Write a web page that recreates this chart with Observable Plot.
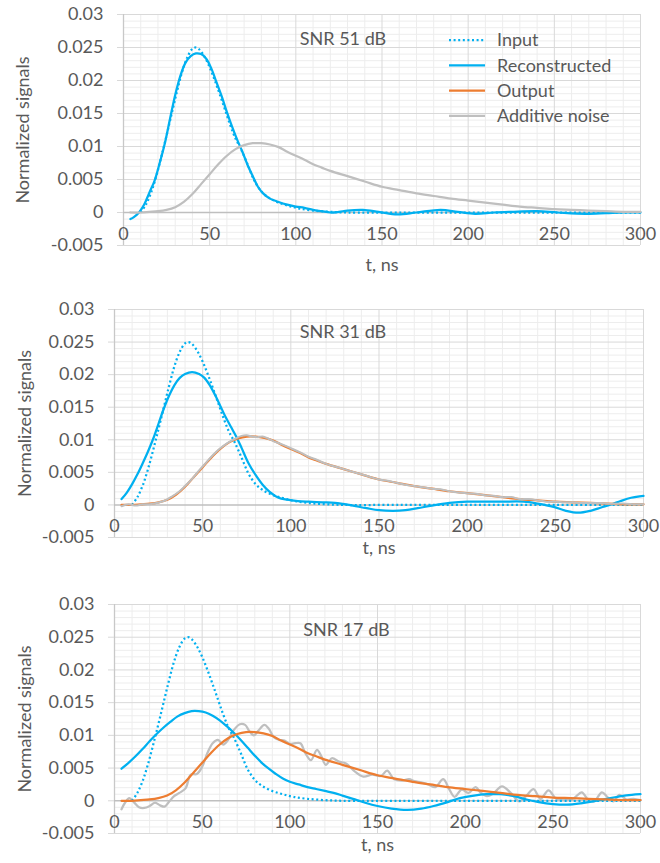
<!DOCTYPE html>
<html><head><meta charset="utf-8">
<script src="https://cdn.jsdelivr.net/npm/d3@7"></script>
<script src="https://cdn.jsdelivr.net/npm/@observablehq/plot@0.6"></script>
<style>
body{margin:0;background:#fff;font-family:Lato,sans-serif;}
#wrap{position:relative;width:660px;height:863px;overflow:hidden;}
#wrap svg{display:block;}
#legend{position:absolute;left:440px;top:25px;}
</style></head><body><div id="wrap"></div>
<script>
// ---- data (t in ns, normalized signal) ----
const xTicks = [0, 50, 100, 150, 200, 250, 300];
const yTicks = [-0.005, 0, 0.005, 0.01, 0.015, 0.02, 0.025, 0.03];
const titles = ["SNR 51 dB", "SNR 31 dB", "SNR 17 dB"];
const seriesNames = ["Input", "Reconstructed", "Output", "Additive noise"];

const input = [[10,0],[13,0.0012],[16,0.0030],[19,0.0055],[22,0.0085],[25,0.0117],[28,0.0150],[31,0.0183],[34,0.0213],[37,0.0235],[40,0.0248],[42,0.0250],[44,0.0247],[47,0.0236],[50,0.0220],[53,0.0200],[56,0.0178],[59,0.0155],[62,0.0132],[65,0.0112],[68,0.0097],[72,0.0073],[76,0.0048],[80,0.0032],[84,0.0023],[90,0.0015],[96,0.0010],[102,0.0006],[110,0.0003],[120,0.0001],[130,0],[160,0],[200,0],[250,0],[300,0]];

const output = [[4,0],[10,0],[15,0.0001],[20,0.0002],[25,0.0004],[30,0.0008],[35,0.0016],[40,0.0028],[45,0.0043],[50,0.0058],[55,0.0073],[60,0.0086],[65,0.0096],[70,0.0102],[75,0.0105],[80,0.0105],[85,0.0103],[90,0.0099],[95,0.0092],[100,0.0086],[105,0.0080],[110,0.0073],[115,0.0068],[120,0.0063],[130,0.0055],[140,0.0047],[150,0.0039],[160,0.0034],[170,0.0029],[180,0.0025],[190,0.0021],[200,0.0018],[210,0.0015],[220,0.0012],[230,0.0009],[240,0.0007],[250,0.0005],[260,0.0004],[270,0.0003],[280,0.0002],[290,0.0001],[300,0.0001]];

const recon51 = [[4,-0.0010],[6,-0.0007],[9,0],[12,0.0012],[15,0.0030],[18,0.0048],[21,0.0075],[24,0.0105],[27,0.0142],[30,0.0178],[33,0.0207],[36,0.0227],[39,0.0237],[42,0.0241],[45,0.0240],[48,0.0233],[51,0.0218],[54,0.0197],[57,0.0176],[60,0.0152],[63,0.0130],[66,0.0110],[69,0.0092],[72,0.0072],[75,0.0055],[78,0.0039],[81,0.0029],[85,0.0021],[90,0.0016],[95,0.0012],[100,0.0009],[105,0.0007],[110,0.0004],[115,0.0002],[120,0.0000],[125,0.0001],[130,0.0003],[139,0.0004],[148,0.0001],[159,-0.0003],[170,0.0000],[184,0.0004],[194,0.0001],[204,-0.0002],[215,0.0000],[225,0.0001],[240,0.0002],[252,0.0000],[268,-0.0002],[280,-0.0001],[290,0.0000],[300,0.0000]];

const recon31 = [[4,0.0009],[7,0.0019],[10,0.0032],[13,0.0047],[16,0.0064],[19,0.0082],[22,0.0102],[25,0.0125],[28,0.0148],[31,0.0168],[34,0.0184],[37,0.0195],[40,0.0201],[44,0.0204],[48,0.0201],[51,0.0195],[54,0.0184],[57,0.0169],[60,0.0152],[63,0.0135],[66,0.0120],[69,0.0105],[72,0.0088],[76,0.0064],[80,0.0046],[84,0.0031],[88,0.0020],[93,0.0011],[98,0.0008],[104,0.0006],[110,0.0005],[118,0.0004],[125,0.0003],[133,0.0000],[143,-0.0005],[150,-0.0008],[158,-0.0009],[165,-0.0008],[172,-0.0005],[180,-0.0001],[190,0.0003],[200,0.0005],[210,0.0005],[220,0.0005],[232,0.0005],[240,0.0002],[249,-0.0003],[256,-0.0009],[263,-0.0012],[270,-0.0009],[276,-0.0004],[282,0.0001],[287,0.0006],[293,0.0011],[300,0.0014]];

const recon17 = [[4,0.0049],[8,0.0058],[12,0.0068],[16,0.0079],[20,0.0091],[24,0.0102],[28,0.0112],[32,0.0121],[36,0.0129],[40,0.0134],[44,0.0137],[48,0.0137],[52,0.0135],[56,0.0130],[60,0.0123],[64,0.0114],[68,0.0104],[72,0.0093],[76,0.0081],[80,0.0069],[84,0.0058],[88,0.0049],[92,0.0041],[96,0.0034],[100,0.0029],[105,0.0025],[110,0.0021],[115,0.0018],[120,0.0015],[125,0.0012],[130,0.0008],[136,0.0003],[143,-0.0003],[150,-0.0008],[158,-0.0012],[167,-0.0014],[175,-0.0012],[182,-0.0008],[190,-0.0002],[197,0.0004],[205,0.0008],[212,0.0010],[220,0.0010],[228,0.0007],[235,0.0002],[242,-0.0002],[250,-0.0005],[258,-0.0006],[266,-0.0004],[273,-0.0001],[281,0.0003],[289,0.0007],[295,0.0009],[300,0.0010]];

const noise31 = [[4,-0.0002],[8,0.0001],[12,-0.0001],[16,0.0001],[20,0.0001],[24,0.0003],[28,0.0006],[32,0.0012],[36,0.0019],[40,0.0029],[44,0.0040],[48,0.0053],[52,0.0065],[56,0.0077],[60,0.0087],[64,0.0095],[68,0.0101],[72,0.0106],[75,0.0107],[78,0.0105],[81,0.0104],[84,0.0105],[87,0.0102],[90,0.0098],[95,0.0093],[100,0.0087],[105,0.0081],[110,0.0074],[115,0.0069],[120,0.0063],[125,0.0059],[130,0.0055],[135,0.0051],[140,0.0047],[145,0.0043],[150,0.0039],[155,0.0037],[160,0.0034],[165,0.0031],[170,0.0029],[175,0.0027],[180,0.0025],[185,0.0024],[190,0.0021],[195,0.0019],[200,0.0018],[205,0.0017],[210,0.0015],[215,0.0014],[220,0.0012],[225,0.0012],[230,0.0009],[235,0.0009],[240,0.0007],[245,0.0005],[250,0.0005],[255,0.0004],[260,0.0004],[265,0.0003],[270,0.0003],[275,0.0003],[280,0.0002],[285,0.0002],[290,0.0002],[295,0.0001],[300,0.0001]];

const noise17 = [[4,-0.0013],[6,-0.0003],[8.5,0.0004],[11,-0.0002],[14,-0.0010],[17,-0.0011],[20,-0.0008],[23,-0.0003],[26,-0.0007],[28.5,-0.0009],[31,-0.0002],[34,0.0007],[37,0.0012],[40.5,0.0019],[43.5,0.0040],[47,0.0041],[50,0.0052],[53,0.0073],[56,0.0088],[59,0.0093],[62,0.0086],[65,0.0094],[68,0.0108],[71.5,0.0117],[74.5,0.0116],[77,0.0106],[79.5,0.0100],[82,0.0107],[85.5,0.0116],[88,0.0110],[91,0.0097],[94,0.0093],[97,0.0092],[100,0.0087],[103,0.0088],[106,0.0088],[109,0.0072],[112,0.0062],[115.5,0.0078],[118,0.0068],[120.5,0.0055],[124,0.0065],[128,0.0060],[132,0.0057],[137,0.0045],[142,0.0037],[147,0.0040],[152,0.0038],[155.5,0.0046],[159.5,0.0033],[164,0.0031],[168,0.0033],[171,0.0030],[175,0.0028],[179,0.0025],[183,0.0021],[187.5,0.0033],[191,0.0017],[194,0.0006],[198,0.0017],[202,0.0012],[206,0.0021],[209,0.0012],[212.5,0.0007],[216,0.0011],[221,0.0022],[226,0.0012],[231,-0.0001],[235,0.0008],[239,0.0018],[243,0.0003],[247.5,0.0016],[252,0.0003],[258,0.0001],[262,0.0004],[266.5,0.0013],[270,0.0002],[273.5,-0.0001],[278,0.0013],[281,0.0006],[284.5,-0.0001],[288,0.0009],[292,0.0002],[296,0.0003],[300,0.0001]];

// ---- styling ----
const BLUE = "#00B0F0", ORANGE = "#ED7D31", GRAY = "#BFBFBF", TEXT = "#595959";
const FONT = 18;

const minorX = d3.range(10, 300, 10).filter(d => d % 50 !== 0);
const majorX = [50, 100, 150, 200, 250, 300];
const minorY = d3.range(-5, 31).filter(i => i % 5 !== 0).map(i => i / 1000);
const majorY = yTicks.filter(d => d !== 0);
const fmt = d => String(+d.toFixed(3));

const lineOpts = (stroke, extra = {}) => ({x: d => d[0], y: d => d[1], stroke, strokeWidth: 2.25, curve: "catmull-rom", ...extra});
const dotted = {strokeDasharray: "2,2.6", strokeWidth: 2.25, strokeLinecap: "butt"};

const panels = [
  {height: 285, mt: 14, mb: 40, ml: 123, mr: 20, title: titles[0], tdx: -39, tdy: 18, xdy: 25, ydx: -100,
   layers: [[input, BLUE, dotted], [recon51, BLUE], [output, GRAY]]},
  {height: 285, mt: 24, mb: 33, ml: 114, mr: 17, title: titles[1], tdx: -36, tdy: 16, xdy: 16, ydx: -89,
   layers: [[input, BLUE, dotted], [recon31, BLUE], [output, ORANGE], [noise31, GRAY, {strokeWidth: 2}]]},
  {height: 293, mt: 34, mb: 30, ml: 114, mr: 20, title: titles[2], tdx: -31, tdy: 19, xdy: 17, ydx: -89,
   layers: [[noise17, GRAY], [input, BLUE, dotted], [recon17, BLUE], [output, ORANGE]]}
];

const wrap = document.getElementById("wrap");
for (const p of panels) {
  const chart = Plot.plot({
    width: 660, height: p.height,
    marginTop: p.mt, marginBottom: p.mb, marginLeft: p.ml, marginRight: p.mr,
    x: {domain: [0, 300], axis: null},
    y: {domain: [-0.005, 0.03]},
    style: {fontFamily: "Lato, sans-serif", fontSize: FONT + "px", color: TEXT, background: "white", overflow: "visible"},
    marks: [
      Plot.ruleX(minorX, {stroke: "#EDEDED", strokeWidth: 1}),
      Plot.ruleY(minorY, {stroke: "#EDEDED", strokeWidth: 1}),
      Plot.ruleX(majorX, {stroke: "#D9D9D9", strokeWidth: 1}),
      Plot.ruleY(majorY, {stroke: "#D9D9D9", strokeWidth: 1}),
      Plot.ruleX([0], {stroke: "#C8C8C8", strokeWidth: 1.3}),
      Plot.ruleY([0], {stroke: "#BFBFBF", strokeWidth: 1.5}),
      Plot.axisY(yTicks, {tickSize: 6, tickPadding: 14, stroke: "#D9D9D9", tickFormat: fmt, fontSize: FONT, label: null}),
      Plot.text(xTicks, {x: d => d, frameAnchor: "bottom", dy: -6, text: d => String(d), fontSize: FONT, fill: TEXT}),
      Plot.text(["t, ns"], {frameAnchor: "bottom", dy: p.xdy, fontSize: FONT, fill: TEXT}),
      Plot.text(["Normalized signals"], {frameAnchor: "left", textAnchor: "middle", rotate: -90, dx: p.ydx, fontSize: FONT, fill: TEXT}),
      Plot.text([p.title], {frameAnchor: "top", dx: p.tdx, dy: p.tdy, fontSize: FONT, fill: TEXT}),
      ...p.layers.map(([data, color, extra]) => Plot.line(data, lineOpts(color, extra || {})))
    ]
  });
  wrap.appendChild(chart);
}

// ---- legend (inside top panel) ----
const legendItems = [
  {name: seriesNames[0], color: BLUE, dash: "2,2.6"},
  {name: seriesNames[1], color: BLUE, dash: null},
  {name: seriesNames[2], color: ORANGE, dash: null},
  {name: seriesNames[3], color: GRAY, dash: null}
];
const lg = d3.select(wrap).append("svg").attr("id", "legend").attr("width", 200).attr("height", 110)
  .style("font-family", "Lato, sans-serif").style("font-size", FONT + "px");
const rows = lg.selectAll("g").data(legendItems).join("g")
  .attr("transform", (d, i) => `translate(0,${15 + i * 25.3})`);
rows.append("line").attr("x1", 9).attr("x2", 45).attr("y1", 0).attr("y2", 0)
  .attr("stroke", d => d.color).attr("stroke-width", 2.25)
  .attr("stroke-dasharray", d => d.dash);
rows.append("text").attr("x", 57).attr("y", 0).attr("dy", "0.35em").attr("fill", TEXT).text(d => d.name);
</script>
</body></html>
